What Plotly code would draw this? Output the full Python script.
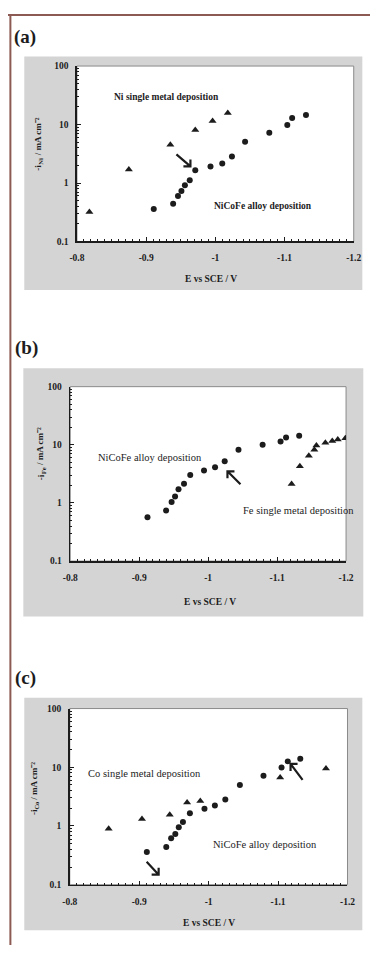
import numpy as np
import plotly.graph_objects as go

W, H = 378, 955

# ---------------- data ----------------
# (a) Ni partial current
a_ni_single_E = [-0.818, -0.875, -0.935, -0.971, -0.996, -1.018]
a_ni_single_i = [0.32, 1.71, 4.5, 8.1, 11.5, 15.7]
a_alloy_E = [-0.911, -0.939, -0.946, -0.951, -0.956, -0.963, -0.971, -0.993,
             -1.010, -1.024, -1.043, -1.078, -1.104, -1.111, -1.131]
a_alloy_i = [0.36, 0.44, 0.60, 0.73, 0.92, 1.11, 1.65, 1.92,
             2.16, 2.84, 5.1, 7.2, 9.8, 12.9, 14.5]

# (b) Fe partial current
b_alloy_E = [-0.912, -0.939, -0.947, -0.952, -0.957, -0.965, -0.974, -0.994,
             -1.010, -1.024, -1.044, -1.079, -1.105, -1.113, -1.132]
b_alloy_i = [0.57, 0.74, 1.04, 1.29, 1.72, 2.15, 3.02, 3.6,
             4.1, 5.2, 8.2, 10.0, 11.4, 13.4, 14.3]
b_fe_single_E = [-1.121, -1.133, -1.146, -1.154, -1.157, -1.170, -1.180, -1.188, -1.199]
b_fe_single_i = [2.12, 4.3, 6.5, 8.2, 9.7, 10.9, 11.6, 12.4, 13.0]

# (c) Co partial current
c_co_single_E = [-0.856, -0.904, -0.944, -0.969, -0.988, -1.103, -1.169]
c_co_single_i = [0.90, 1.31, 1.55, 2.5, 2.67, 6.7, 9.5]
c_alloy_E = [-0.911, -0.939, -0.946, -0.952, -0.957, -0.963, -0.973, -0.994,
             -1.009, -1.024, -1.045, -1.079, -1.105, -1.114, -1.132]
c_alloy_i = [0.36, 0.44, 0.62, 0.73, 0.95, 1.17, 1.65, 1.96,
             2.23, 2.82, 5.0, 7.2, 9.9, 12.6, 14.0]

x_tick_vals = [-0.8, -0.9, -1.0, -1.1, -1.2]
x_tick_text = ["-0.8", "-0.9", "-1", "-1.1", "-1.2"]
y_tick_vals = [0.1, 1, 10, 100]
y_tick_text = ["0.1", "1", "10", "100"]

panel_labels = ["(a)", "(b)", "(c)"]
y_title_head = "-i"
y_title_subs = ["Ni", "Fe", "Co"]
y_title_unit = "/ mA cm⁻²"
x_title = "E vs SCE / V"

# ---------------- layout helpers ----------------
def PX(x):
    return x / W

def PY(y):
    return 1 - y / H

FONT = "Liberation Serif, Times New Roman, Times, serif"
INK = "#1c1c1c"
GRAY = "#d4d4d4"

# plot areas in pixels: (left, right, top, bottom)
areas = [(72, 361, 61.7, 239), (65, 353, 385.7, 562), (64.5, 354.5, 711, 889)]
gray_boxes = [(17, 370, 52, 288), (16, 371, 367, 618), (17, 370, 700, 935)]

fig = go.Figure()

series = [
    [(a_ni_single_E, a_ni_single_i, "triangle-up"), (a_alloy_E, a_alloy_i, "circle")],
    [(b_alloy_E, b_alloy_i, "circle"), (b_fe_single_E, b_fe_single_i, "triangle-up")],
    [(c_co_single_E, c_co_single_i, "triangle-up"), (c_alloy_E, c_alloy_i, "circle")],
]

for k, group in enumerate(series):
    sx = "x" if k == 0 else f"x{k+1}"
    sy = "y" if k == 0 else f"y{k+1}"
    for E, I, sym in group:
        fig.add_trace(go.Scatter(
            x=E, y=I, mode="markers", xaxis=sx, yaxis=sy,
            marker=dict(symbol=sym, size=6 if sym == "circle" else 7,
                        color=INK, line=dict(width=0)),
            showlegend=False, hoverinfo="skip"))

x_minor = [round(-0.8 - 0.01 * j, 3) for j in range(41)]
y_minor = [m * 10.0 ** d for d in (-1, 0, 1) for m in range(2, 10)]

shapes = []
annotations = []
layout = dict(width=W, height=H, autosize=False,
              margin=dict(l=0, r=0, t=0, b=0),
              paper_bgcolor="white", plot_bgcolor="rgba(0,0,0,0)",
              showlegend=False)

for k in range(3):
    l, r, t, b = areas[k]
    xn = "xaxis" if k == 0 else f"xaxis{k+1}"
    yn = "yaxis" if k == 0 else f"yaxis{k+1}"
    xa = "x" if k == 0 else f"x{k+1}"
    ya = "y" if k == 0 else f"y{k+1}"
    tickfont = dict(family=FONT, size=9.5, color=INK, weight="bold")
    layout[xn] = dict(domain=[PX(l), PX(r)], anchor=ya, range=[-0.8, -1.2],
                      tickmode="array", tickvals=x_tick_vals, ticktext=x_tick_text,
                      ticks="inside", ticklen=4, tickwidth=1, tickcolor=INK,
                      minor=dict(tickmode="array", tickvals=x_minor, ticks="inside",
                                 ticklen=2, tickcolor=INK, showgrid=False),
                      showline=True, linecolor=INK, linewidth=1.5,
                      showgrid=False, zeroline=False, tickfont=tickfont,
                      ticklabelstandoff=7, fixedrange=True)
    layout[yn] = dict(domain=[PY(b), PY(t)], anchor=xa, type="log", range=[-1, 2],
                      tickmode="array", tickvals=y_tick_vals, ticktext=y_tick_text,
                      ticks="inside", ticklen=4, tickwidth=1, tickcolor=INK,
                      minor=dict(tickmode="array", tickvals=y_minor, ticks="inside",
                                 ticklen=2, tickcolor=INK, showgrid=False),
                      showline=True, linecolor=INK, linewidth=1.5,
                      showgrid=False, zeroline=False, tickfont=tickfont,
                      ticklabelstandoff=5, fixedrange=True)
    gl, gr, gt, gb = gray_boxes[k]
    shapes.append(dict(type="rect", xref="paper", yref="paper", layer="below",
                       x0=PX(gl), x1=PX(gr), y0=PY(gb), y1=PY(gt),
                       fillcolor=GRAY, line=dict(width=0)))
    shapes.append(dict(type="rect", xref=f"{xa} domain", yref=f"{ya} domain", layer="below",
                       x0=0, x1=1, y0=0, y1=1, fillcolor="white",
                       line=dict(color="#8a8a8a", width=1)))

# brown frame lines
shapes.append(dict(type="line", xref="paper", yref="paper", x0=0, x1=1,
                   y0=PY(10), y1=PY(10), line=dict(color="#8c5a52", width=2)))
shapes.append(dict(type="line", xref="paper", yref="paper", x0=PX(2.5), x1=PX(2.5),
                   y0=PY(10), y1=PY(950), line=dict(color="#8c5a52", width=2)))

def text(x, y, s, size=9.5, bold=False, angle=0, xanchor="center", yanchor="middle"):
    annotations.append(dict(x=PX(x), y=PY(y), xref="paper", yref="paper", text=s,
                            showarrow=False, textangle=angle, xanchor=xanchor,
                            yanchor=yanchor, borderpad=0,
                            font=dict(family=FONT, size=size, color=INK,
                                      weight="bold" if bold else "normal")))

def y_title(xc, yc, sub):
    head_w = 6.0
    sub_w = 7.5
    unit_w = 38.0
    total = head_w + sub_w + unit_w
    yb = yc + total / 2
    text(xc, yb, y_title_head, size=9, bold=True, angle=-90, yanchor="bottom")
    text(xc + 2.6, yb - head_w, sub, size=6.5, bold=True, angle=-90, yanchor="bottom")
    text(xc, yb - head_w - sub_w - 1.5, y_title_unit, size=9, bold=True, angle=-90,
         yanchor="bottom")

# panel labels
text(5, 32, panel_labels[0], size=19, bold=True, xanchor="left")
text(6, 347, panel_labels[1], size=19, bold=True, xanchor="left")
text(6, 680, panel_labels[2], size=19, bold=True, xanchor="left")

# axis titles
y_title(31, 143, y_title_subs[0])
y_title(34, 456, y_title_subs[1])
y_title(27, 794, y_title_subs[2])
text(212, 277, x_title, size=9.5, bold=True)
text(211, 603, x_title, size=9.5, bold=True)
text(210, 928, x_title, size=9.5, bold=True)

# in-plot labels
text(166, 93, "Ni single metal deposition", size=9.5, bold=True)
text(266, 203, "NiCoFe alloy deposition", size=9.5, bold=True)
text(148, 457, "NiCoFe alloy deposition", size=10.5)
text(303, 511, "Fe single metal deposition", size=10.5)
text(143, 777, "Co single metal deposition", size=10.5)
text(268, 848, "NiCoFe alloy deposition", size=10.5)

# arrows drawn as pixel-sized paths anchored at a data position (y up positive)
def arrow(xa, ya, E, i, tx, ty):
    hx = 7 if tx > 0 else -7
    hy = 7 if ty > 0 else -7
    path = f"M{tx},{ty} L0,0 M{hx},0 L0,0 L0,{hy}"
    shapes.append(dict(type="path", xref=xa, yref=ya, xsizemode="pixel",
                       ysizemode="pixel", xanchor=E, yanchor=i, path=path,
                       line=dict(color=INK, width=2.2), layer="above"))

arrow("x", "y", -0.964, 1.92, -14, 12)
arrow("x2", "y2", -1.028, 3.5, 13, -13)
arrow("x3", "y3", -0.928, 0.148, -12, 13)
arrow("x3", "y3", -1.118, 11.4, 12, -16)

layout["shapes"] = shapes
layout["annotations"] = annotations
fig.update_layout(**layout)
fig.write_html("out.html",
               config={"displayModeBar": False, "staticPlot": True},
               post_script="document.body.style.margin='0px';"
                           "document.body.style.padding='0px';")
